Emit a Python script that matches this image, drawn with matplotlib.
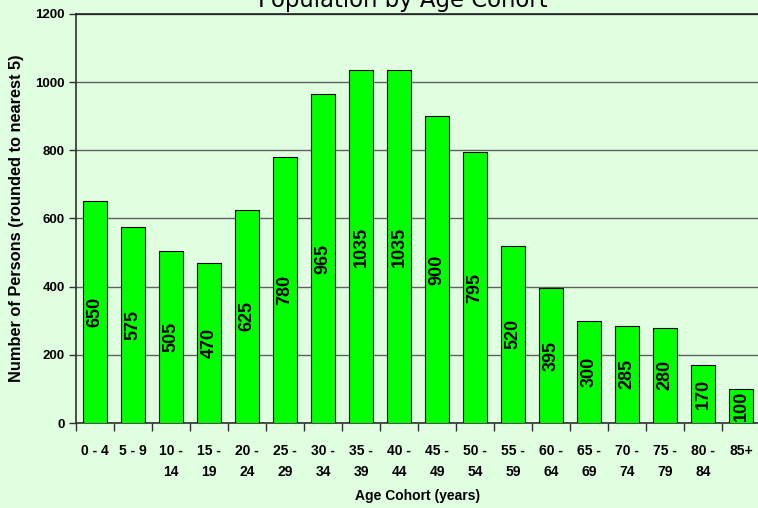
import matplotlib
matplotlib.use("Agg")
import matplotlib.pyplot as plt
import numpy as np

categories = ["0 - 4", "5 - 9", "10 -\n14", "15 -\n19", "20 -\n24", "25 -\n29", "30 -\n34",
              "35 -\n39", "40 -\n44", "45 -\n49", "50 -\n54", "55 -\n59", "60 -\n64",
              "65 -\n69", "70 -\n74", "75 -\n79", "80 -\n84", "85+"]
values = [650, 575, 505, 470, 625, 780, 965, 1035, 1035, 900, 795, 520, 395, 300, 285, 280, 170, 100]
yticks = [0, 200, 400, 600, 800, 1000, 1200]

bg = "#E0FFE0"
fig = plt.figure(figsize=(7.58, 5.08), dpi=100, facecolor=bg)
ax = fig.add_axes([76/758, 1-423/508, 684/758, 409/508])
ax.set_facecolor(bg)

x = np.arange(len(values))
ax.bar(x, values, width=0.63, color="#00FF00", edgecolor="black", linewidth=0.8, zorder=3)
for xi, v in zip(x, values):
    ax.text(xi, v/2, str(v), rotation=90, ha="center", va="center", fontsize=13,
            fontweight="bold", family="Liberation Sans", zorder=4)

ax.set_xlim(-0.5, len(values)-0.5)
ax.set_ylim(0, 1200)
ax.set_yticks(yticks)
ax.set_yticklabels([str(t) for t in yticks], fontsize=9.5, fontweight="bold", family="Liberation Sans")
ax.yaxis.grid(True, color="#606060", linewidth=1.0, zorder=0)
ax.set_axisbelow(True)

ax.set_xticks(x)
ax.set_xticklabels(categories, fontsize=10, fontweight="bold", family="Liberation Sans",
                   linespacing=1.65, va="top")
ax.tick_params(axis="x", length=0, pad=15)
ax.set_xticks(np.arange(-0.5, len(values)), minor=True)
ax.tick_params(axis="x", which="minor", length=6, width=1, color="#303030")
ax.tick_params(axis="y", length=5, width=1, color="#303030", pad=3)

ax.spines["right"].set_visible(False)
ax.spines["top"].set_color("#202020")
for s in ["left", "bottom", "top"]:
    ax.spines[s].set_linewidth(1.2)
ax.spines["left"].set_color("#303030")
ax.spines["bottom"].set_color("#303030")

ax.set_xlabel("Age Cohort (years)", fontsize=10, fontweight="bold", family="Liberation Sans", labelpad=7)
ax.set_ylabel("Number of Persons (rounded to nearest 5)", fontsize=11.8, fontweight="bold",
              family="Liberation Sans", labelpad=8)

fig.text(403/758, 1-7/508, "Population by Age Cohort", ha="center", va="baseline", fontsize=16.4,
         family="DejaVu Sans")

fig.savefig("out.png", dpi=100, facecolor=bg)
